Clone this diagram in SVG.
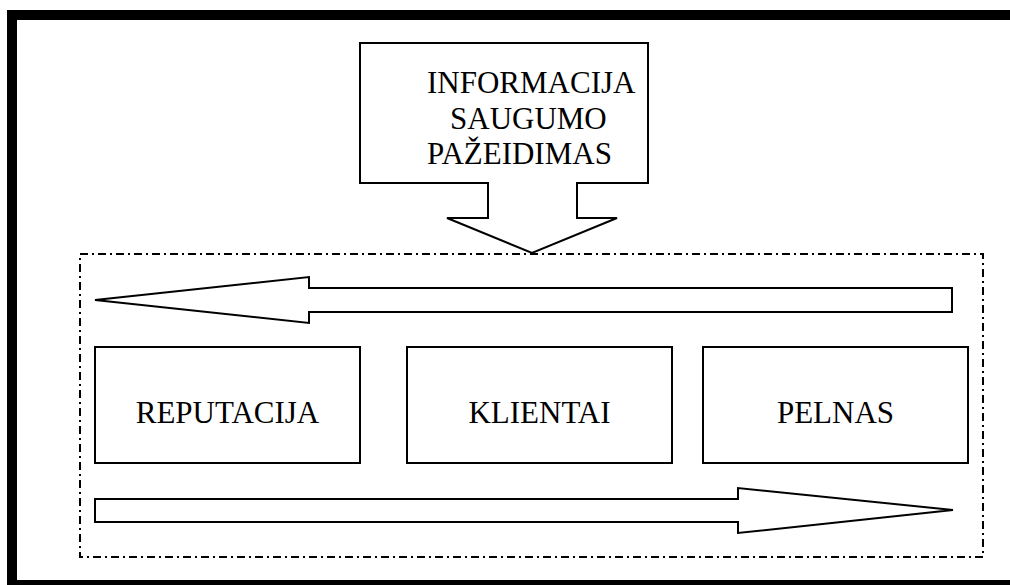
<svg xmlns="http://www.w3.org/2000/svg" width="1010" height="585" viewBox="0 0 1010 585">
<style>
.shape{fill:#fff;stroke:#000;stroke-width:2;stroke-linejoin:miter}
.frame{fill:none;stroke:#000;stroke-width:10}
.group{fill:none;stroke:#000;stroke-width:2;stroke-dasharray:8 4 2 4}
</style>
<rect width="1010" height="585" fill="#fff"/>
<rect class="frame" x="12" y="15" width="1010" height="570"/>
<g id="scope">
<rect class="group" x="80" y="254" width="903" height="303"/>
</g>
<g id="breach">
<polygon class="shape" points="360,43 648,43 648,183 577,183 577,218 617,218 532,253 447,218 488,218 488,183 360,183"/>
<g font-family="Liberation Serif, Times New Roman, serif" font-size="31" fill="#000">
<text x="427" y="93">INFORMACIJA</text>
<text x="450" y="129">SAUGUMO</text>
<text x="427" y="164">PAŽEIDIMAS</text>
</g>
</g>
<g id="connectors">
<polygon class="shape" points="95,300 309,277 309,288 952,288 952,312 309,312 309,323"/>
<polygon class="shape" points="95,499 738,499 738,488 953,510 738,533 738,522 95,522"/>
</g>
<g font-family="Liberation Serif, Times New Roman, serif" font-size="31" fill="#000" text-anchor="middle">
<g id="reputacija">
<rect class="shape" x="95" y="347" width="265" height="116"/>
<text x="227.5" y="423">REPUTACIJA</text>
</g>
<g id="klientai">
<rect class="shape" x="407" y="347" width="265" height="116"/>
<text x="539.5" y="423">KLIENTAI</text>
</g>
<g id="pelnas">
<rect class="shape" x="703" y="347" width="265" height="116"/>
<text x="835.5" y="423">PELNAS</text>
</g>
</g>
</svg>
